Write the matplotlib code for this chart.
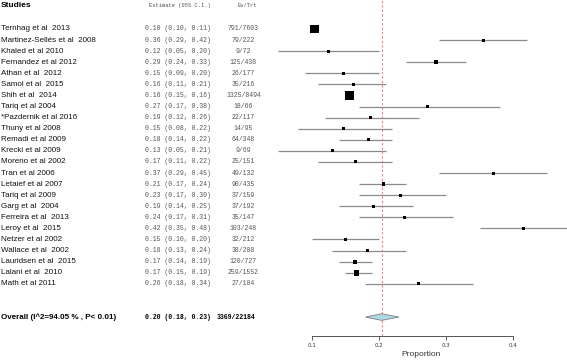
import matplotlib
matplotlib.use("Agg")
import matplotlib.pyplot as plt
from matplotlib.transforms import blended_transform_factory
import numpy as np

studies = ["Ternhag et al  2013", "Martinez-Sellés et al  2008", "Khaled et al 2010",
           "Fernandez et al 2012", "Athan et al  2012", "Samol et al  2015",
           "Shih et al  2014", "Tariq et al 2004", "*Pazdernik et al 2016",
           "Thuny et al 2008", "Remadi et al 2009", "Krecki et al 2009",
           "Moreno et al 2002", "Tran et al 2006", "Letaief et al 2007",
           "Tariq et al 2009", "Garg et al  2004", "Ferreira et al  2013",
           "Leroy et al  2015", "Netzer et al 2002", "Wallace et al  2002",
           "Lauridsen et al  2015", "Lalani et al  2010", "Math et al 2011"]
est_txt = [0.10, 0.36, 0.12, 0.29, 0.15, 0.16, 0.16, 0.27, 0.19, 0.15, 0.18, 0.13,
           0.17, 0.37, 0.21, 0.23, 0.19, 0.24, 0.42, 0.15, 0.18, 0.17, 0.17, 0.26]
ci_lo = [0.10, 0.29, 0.05, 0.24, 0.09, 0.11, 0.15, 0.17, 0.12, 0.08, 0.14, 0.05,
         0.11, 0.29, 0.17, 0.17, 0.14, 0.17, 0.35, 0.10, 0.13, 0.14, 0.15, 0.18]
ci_hi = [0.11, 0.42, 0.20, 0.33, 0.20, 0.21, 0.16, 0.38, 0.26, 0.22, 0.22, 0.21,
         0.22, 0.45, 0.24, 0.30, 0.25, 0.31, 0.48, 0.20, 0.24, 0.19, 0.19, 0.34]
events = [791, 79, 9, 125, 26, 35, 1325, 18, 22, 14, 64, 9, 25, 49, 90, 37, 37, 35,
          103, 32, 38, 120, 259, 27]
totals = [7603, 222, 72, 438, 177, 216, 8494, 66, 117, 95, 348, 69, 151, 132, 435,
          159, 192, 147, 248, 212, 208, 727, 1552, 104]

overall_label = "Overall (I^2=94.05 % , P< 0.01)"
overall_est, overall_lo, overall_hi = 0.204, 0.18, 0.23
overall_txt = "0.20 (0.18, 0.23)"
overall_n = "3369/22184"
xticks = [0.1, 0.2, 0.3, 0.4]

W, H = 567, 360
fig = plt.figure(figsize=(W / 100, H / 100), dpi=100)
ax = fig.add_axes([257.9 / W, 1 - 336 / H, (567.1 - 257.9) / W, 336 / H])
ax.set_xlim(0.02, 0.48)
ax.set_ylim(27.71, -2.617)

n = len(studies)
rows = np.arange(n)
props = np.array(events) / np.array(totals)

# square size from (logit) random-effects style weights
v = 1.0 / (np.array(events) * (1 - props))
w = 1.0 / (v + 0.00132)
side_px = np.maximum(3.0, 9.3 * np.sqrt(w / w.max()))
side_pt = side_px * 0.72

ax.hlines(rows, ci_lo, ci_hi, color="#8a8a8a", lw=0.9, zorder=2)
ax.scatter(props, rows, marker="s", s=side_pt ** 2, color="black", lw=0, zorder=3)

# overall diamond
oy = 26
ax.fill([overall_lo, overall_est, overall_hi, overall_est],
        [oy, oy - 0.3, oy, oy + 0.3], facecolor="#add8e6", edgecolor="#7f7f7f",
        lw=0.6, zorder=3)
ax.axvline(overall_est, color="#f08080", ls=(0, (2, 2)), lw=0.8, zorder=1)

for s in ["top", "right", "left"]:
    ax.spines[s].set_visible(False)
ax.spines["bottom"].set_bounds(0.1, 0.4)
ax.spines["bottom"].set_color("#555555")
ax.spines["bottom"].set_linewidth(0.7)
ax.set_yticks([])
ax.set_xticks(xticks)
ax.set_xticklabels([f"{t:.1f}" for t in xticks])
ax.tick_params(axis="x", length=3, width=0.7, color="#555555", labelsize=4,
               labelcolor="#333333", pad=2)
fig.text(421 / W, 1 - 355 / H, "Proportion", ha="center", va="center",
         fontsize=6, color="#333333", family="Liberation Sans")

tr = blended_transform_factory(fig.transFigure, ax.transData)
sans = "Liberation Sans"
mono = "Liberation Mono"
ax.text(1 / W, -2.1, "Studies", transform=tr, fontsize=6, fontweight="bold",
        family=sans, va="center", ha="left")
ax.text(149 / W, -2.1, "Estimate (95% C.I.)", transform=tr, fontsize=4.0,
        family=mono, color="#555555", va="center", ha="left")
ax.text(247 / W, -2.1, "Ev/Trt", transform=tr, fontsize=4.0,
        family=mono, color="#555555", va="center", ha="center")

for i in range(n):
    ax.text(1 / W, i, studies[i], transform=tr, fontsize=5.8, family=sans,
            va="center", ha="left", color="#111111")
    ax.text(145 / W, i, f"{est_txt[i]:.2f} ({ci_lo[i]:.2f}, {ci_hi[i]:.2f})",
            transform=tr, fontsize=4.7, family=mono, color="#555555",
            va="center", ha="left")
    ax.text(243.5 / W, i, f"{events[i]}/{totals[i]}", transform=tr, fontsize=4.7,
            family=mono, color="#555555", va="center", ha="center")

ax.text(1 / W, oy, overall_label, transform=tr, fontsize=5.8, family=sans,
        fontweight="bold", va="center", ha="left")
ax.text(145 / W, oy, overall_txt, transform=tr, fontsize=4.7, family=mono,
        fontweight="bold", va="center", ha="left")
ax.text(236.5 / W, oy, overall_n, transform=tr, fontsize=4.7, family=mono,
        fontweight="bold", va="center", ha="center")

fig.savefig("out.png", dpi=100)
